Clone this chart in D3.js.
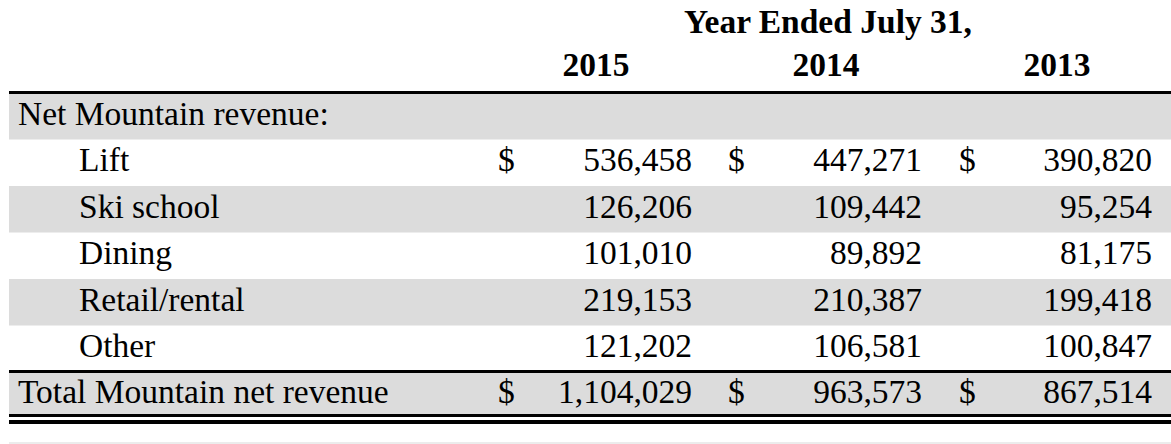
<!DOCTYPE html>
<html>
<head>
<meta charset="utf-8">
<script src="https://cdn.jsdelivr.net/npm/d3@7"></script>
<style>
  html, body { margin: 0; padding: 0; background: #fff; }
  svg { display: block; }
  text { font-family: 'Liberation Serif', 'Times New Roman', serif; fill: #000; }
</style>
</head>
<body>
<svg id="chart" width="1171" height="444"></svg>
<script>
const title = 'Year Ended July 31,';
const years = ['2015', '2014', '2013'];
const sectionLabel = 'Net Mountain revenue:';
const categories = ['Lift', 'Ski school', 'Dining', 'Retail/rental', 'Other'];
const values2015 = [536458, 126206, 101010, 219153, 121202];
const values2014 = [447271, 109442, 89892, 210387, 106581];
const values2013 = [390820, 95254, 81175, 199418, 100847];
const totalLabel = 'Total Mountain net revenue';
const totals = [1104029, 963573, 867514];
const dollarRows = ['Lift'];

const width = 1171;
const left = 9;
const fontSize = 33.5;
const fmt = d3.format(',');

const svg = d3.select('#chart');

// row bands: section heading + categories, then total row
const rows = [sectionLabel, ...categories];
const y = d3.scaleBand().domain(rows).range([93, 372]);
const yTotal = d3.scaleBand().domain([totalLabel]).range([373, 414]);

// column anchors: "$" left edge and number right edge per year
const xDollar = d3.scaleOrdinal().domain(years).range([498, 728, 959]);
const xNum = d3.scaleOrdinal().domain(years).range([692, 922, 1152]);
const xYear = d3.scaleOrdinal().domain(years).range([596, 826, 1057]);

const series = { '2015': values2015, '2014': values2014, '2013': values2013 };

// shaded bands (alternate rows)
svg.append('g')
  .selectAll('rect')
  .data(rows.filter((d, i) => i % 2 === 0))
  .join('rect')
  .attr('x', left)
  .attr('y', (d) => y(d))
  .attr('width', width - left)
  .attr('height', y.bandwidth())
  .attr('fill', '#dcdcdc');

svg.append('rect')
  .attr('x', left).attr('y', yTotal(totalLabel))
  .attr('width', width - left).attr('height', yTotal.bandwidth())
  .attr('fill', '#dcdcdc');

// faint start of next row at the bottom
svg.append('rect')
  .attr('x', left).attr('y', 442).attr('width', width - left).attr('height', 2)
  .attr('fill', '#ececec');

// rules
const rules = [
  { y: 91, h: 3 },
  { y: 370, h: 3 },
  { y: 414, h: 3 },
  { y: 420, h: 4 },
];
svg.append('g')
  .selectAll('rect')
  .data(rules)
  .join('rect')
  .attr('x', left)
  .attr('y', (d) => d.y)
  .attr('width', width - left)
  .attr('height', (d) => d.h)
  .attr('fill', '#000');

// header
svg.append('text')
  .attr('x', 828).attr('y', 33)
  .attr('text-anchor', 'middle')
  .attr('font-weight', 'bold')
  .attr('font-size', fontSize)
  .text(title);

svg.append('g')
  .selectAll('text')
  .data(years)
  .join('text')
  .attr('x', (d) => xYear(d))
  .attr('y', 76)
  .attr('text-anchor', 'middle')
  .attr('font-weight', 'bold')
  .attr('font-size', fontSize)
  .text((d) => d);

// row labels
const baseline = (band) => band + 31.5;

svg.append('text')
  .attr('x', 18).attr('y', baseline(y(sectionLabel)))
  .attr('font-size', fontSize)
  .text(sectionLabel);

const body = svg.append('g');
body.selectAll('text.label')
  .data(categories)
  .join('text')
  .attr('class', 'label')
  .attr('x', 79)
  .attr('y', (d) => baseline(y(d)))
  .attr('font-size', fontSize)
  .text((d) => d);

for (const yr of years) {
  body.append('g')
    .selectAll('text')
    .data(categories.map((c, i) => ({ c, v: series[yr][i] })))
    .join('text')
    .attr('x', xNum(yr))
    .attr('y', (d) => baseline(y(d.c)))
    .attr('text-anchor', 'end')
    .attr('font-size', fontSize)
    .text((d) => fmt(d.v));

  body.append('g')
    .selectAll('text')
    .data(dollarRows)
    .join('text')
    .attr('x', xDollar(yr))
    .attr('y', (d) => baseline(y(d)))
    .attr('font-size', fontSize)
    .text('$');
}

// total row
const tb = yTotal(totalLabel) + 30;
svg.append('text')
  .attr('x', 18).attr('y', tb)
  .attr('font-size', fontSize)
  .text(totalLabel);

svg.append('g')
  .selectAll('text')
  .data(years.map((yr, i) => ({ yr, v: totals[i] })))
  .join('text')
  .attr('x', (d) => xNum(d.yr))
  .attr('y', tb)
  .attr('text-anchor', 'end')
  .attr('font-size', fontSize)
  .text((d) => fmt(d.v));

svg.append('g')
  .selectAll('text')
  .data(years)
  .join('text')
  .attr('x', (d) => xDollar(d))
  .attr('y', tb)
  .attr('font-size', fontSize)
  .text('$');
</script>
</body>
</html>
